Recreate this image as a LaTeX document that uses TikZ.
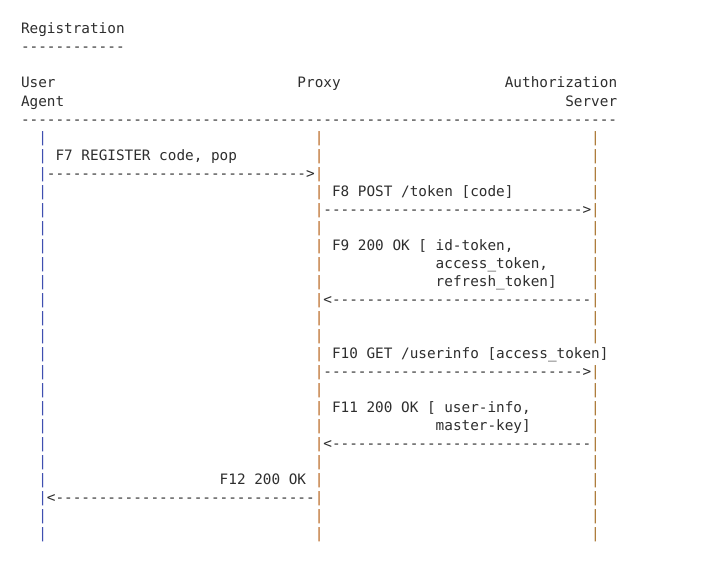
\documentclass[tikz,border=0pt]{standalone}
\usepackage{fontspec}
\setmonofont{DejaVu Sans Mono}
\definecolor{txt}{HTML}{2E2E2E}
\definecolor{barua}{HTML}{3F4FB0}
\definecolor{barpx}{HTML}{B8651F}
\definecolor{baras}{HTML}{A8732E}
\newcommand\gp[2]{(21pt+#1*8.64pt,-34pt-#2*18pt)}
\tikzset{
  ascii/.style={anchor=base west, inner sep=0pt, outer sep=0pt,
    font=\fontsize{14.35pt}{18pt}\selectfont\ttfamily, text=txt},
  barua/.style={ascii, text=barua},
  barpx/.style={ascii, text=barpx},
  baras/.style={ascii, text=baras}
}
\begin{document}
\begin{tikzpicture}
\useasboundingbox[fill=white] (0,0) rectangle (728pt,-578pt);
% header
\node[ascii] (title) at \gp{0}{0} {Registration};
\node[ascii] (titleline) at \gp{0}{1} {------------};
\node[ascii] (ua1) at \gp{0}{3} {User};
\node[ascii] (ua2) at \gp{0}{4} {Agent};
\node[ascii] (px) at \gp{32}{3} {Proxy};
\node[ascii] (as1) at \gp{56}{3} {Authorization};
\node[ascii] (as2) at \gp{63}{4} {Server};
\node[ascii] (rule) at \gp{0}{5} {---------------------------------------------------------------------};
% lifelines
\foreach \r in {6,...,28} {
  \node[barua] (lu\r) at \gp{2}{\r} {|};
  \node[barpx] (lp\r) at \gp{34}{\r} {|};
}
\foreach \r in {6,...,17,19,20,...,28} {
  \node[baras] (ls\r) at \gp{66}{\r} {|};
}
% messages
\node[ascii] (f7) at \gp{4}{7} {F7 REGISTER code, pop};
\node[ascii] (a7) at \gp{3}{8} {------------------------------>};
\node[ascii] (f8) at \gp{36}{9} {F8 POST /token [code]};
\node[ascii] (a8) at \gp{35}{10} {------------------------------>};
\node[ascii] (f9a) at \gp{36}{12} {F9 200 OK [ id-token,};
\node[ascii] (f9b) at \gp{48}{13} {access\_token,};
\node[ascii] (f9c) at \gp{48}{14} {refresh\_token]};
\node[ascii] (a9) at \gp{35}{15} {<------------------------------};
\node[ascii] (f10) at \gp{36}{18} {F10 GET /userinfo [access\_token]};
\node[ascii] (a10) at \gp{35}{19} {------------------------------>};
\node[ascii] (f11a) at \gp{36}{21} {F11 200 OK [ user-info,};
\node[ascii] (f11b) at \gp{48}{22} {master-key]};
\node[ascii] (a11) at \gp{35}{23} {<------------------------------};
\node[ascii] (f12) at \gp{23}{25} {F12 200 OK};
\node[ascii] (a12) at \gp{3}{26} {<------------------------------};
\end{tikzpicture}
\end{document}
